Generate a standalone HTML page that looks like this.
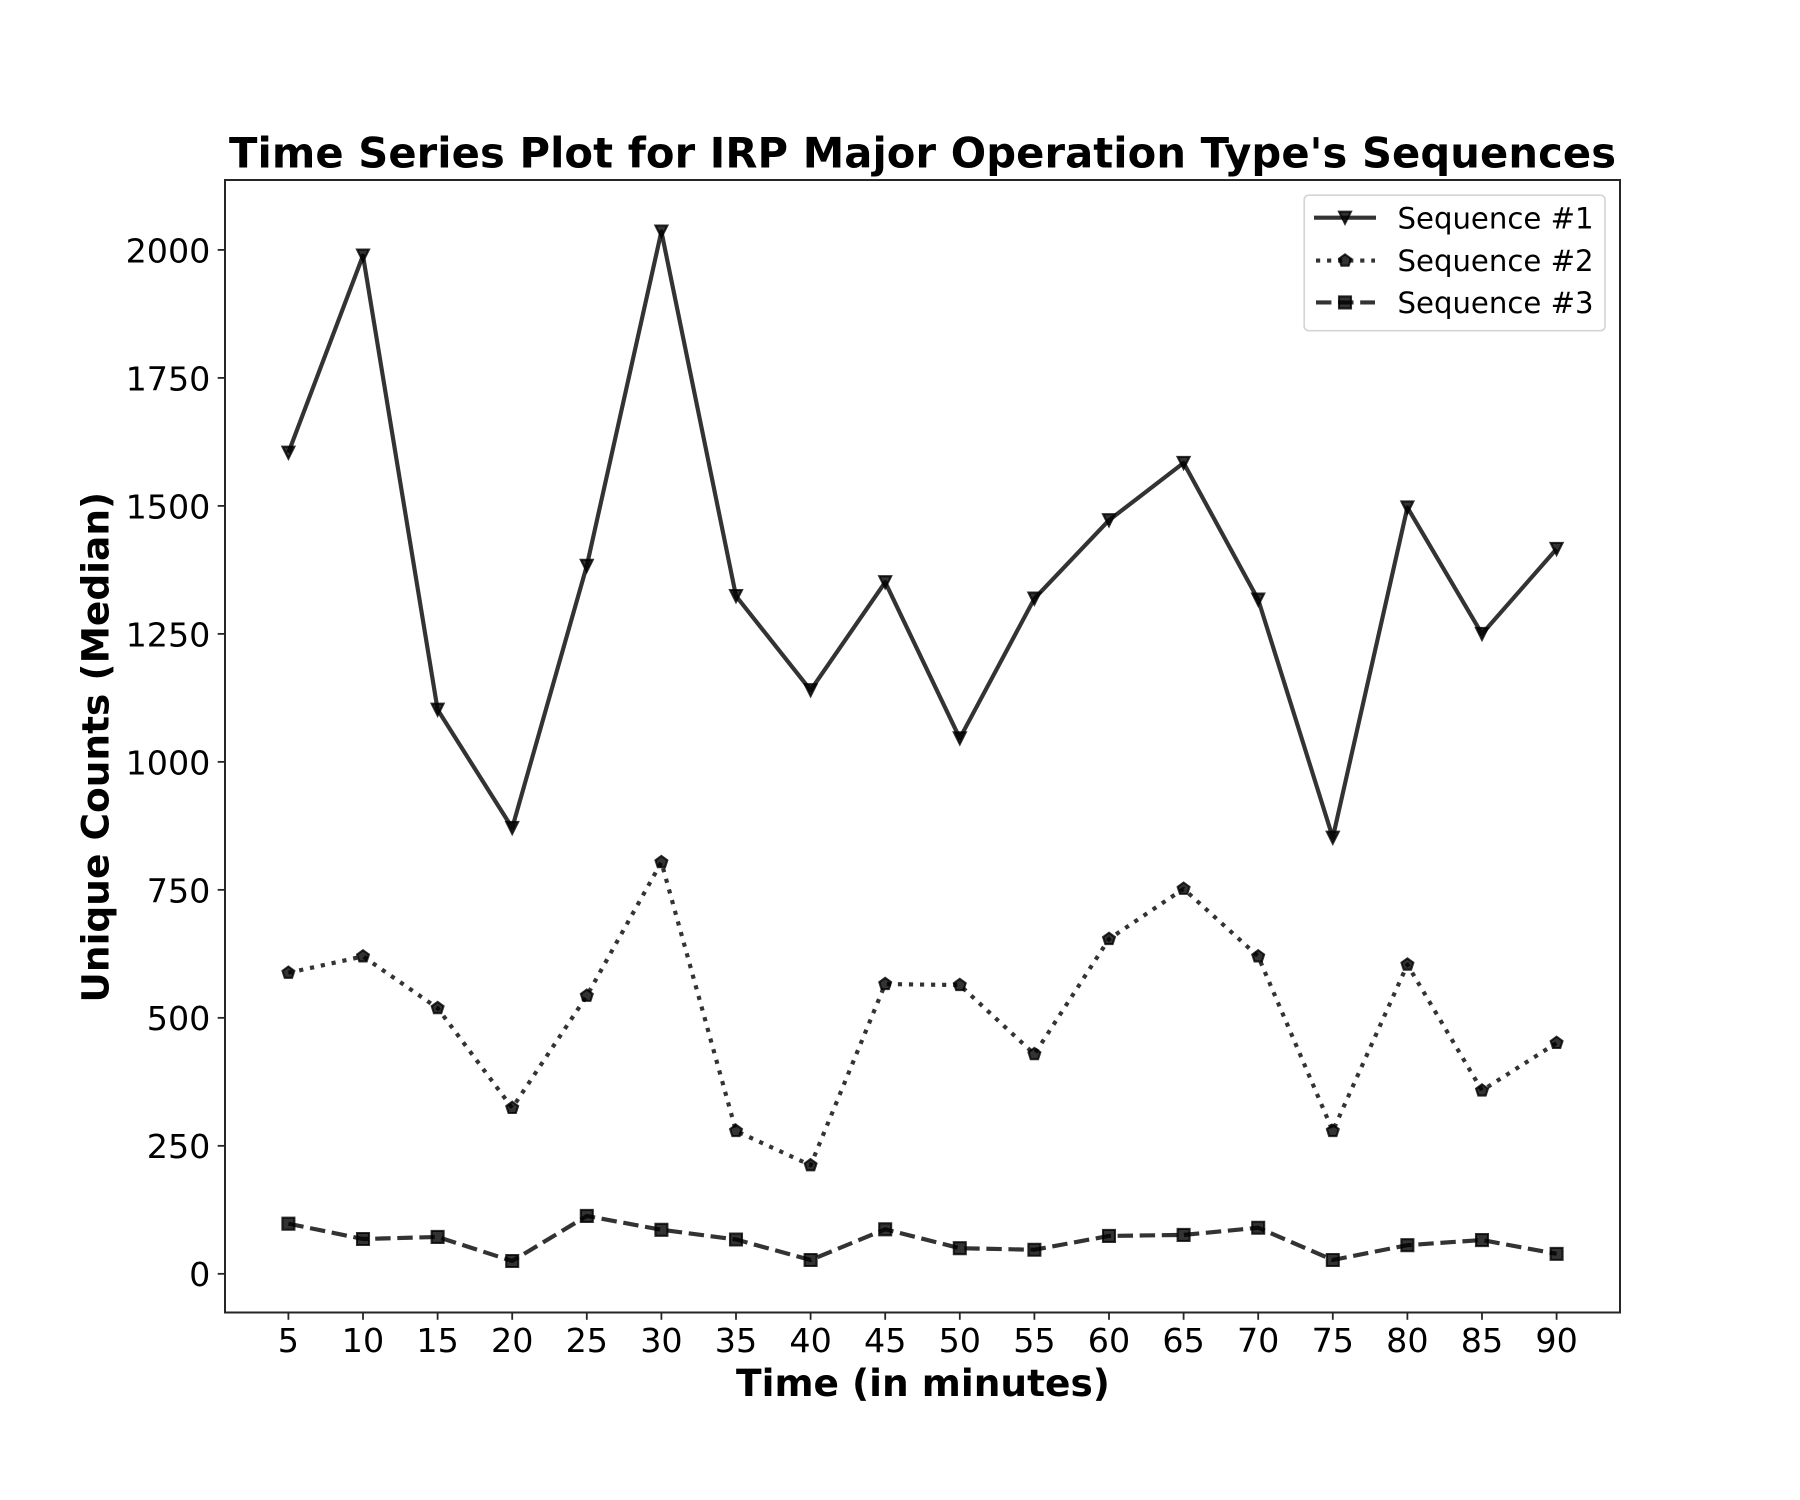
<!DOCTYPE html>
<html>
<head>
<meta charset="utf-8">
<title>Time Series Plot for IRP Major Operation Type's Sequences</title>
<style>
html,body{margin:0;padding:0;background:#fff;width:1800px;height:1500px;overflow:hidden}
svg{display:block}
text{font-family:"DejaVu Sans","Liberation Sans",sans-serif;fill:#000}
</style>
</head>
<body>
<svg id="chart" xmlns="http://www.w3.org/2000/svg" width="1800" height="1500" viewBox="0 0 1800 1500">
  <rect x="0" y="0" width="1800" height="1500" fill="#fff"/>
  <text x="922.5" y="167.6" text-anchor="middle" font-size="41.67" font-weight="700" textLength="1387" lengthAdjust="spacing">Time Series Plot for IRP Major Operation Type's Sequences</text>
  <text x="923" y="1396" text-anchor="middle" font-size="37.5" font-weight="700">Time (in minutes)</text>
  <text transform="translate(108.5,747.2) rotate(-90)" text-anchor="middle" font-size="37.5" font-weight="700">Unique Counts (Median)</text>
  <g id="x-axis"></g>
  <g id="y-axis"></g>
  <g id="series"></g>
  <rect x="225" y="180" width="1395" height="1132.5" fill="none" stroke="#262626" stroke-width="2"/>
  <g id="legend">
    <rect x="1304.2" y="195.2" width="300.8" height="135.5" rx="4.5" ry="4.5" fill="#fff" fill-opacity="0.8" stroke="#d5d5d5" stroke-width="1.67"/>
  </g>
</svg>
<script>
const minutes = [5,10,15,20,25,30,35,40,45,50,55,60,65,70,75,80,85,90];
const sequence1 = [1604,1989,1102,871,1383,2036,1324,1140,1351,1046,1319,1472,1584,1317,852,1497,1250,1416];
const sequence2 = [588,620,519,324,543,804,279,212,566,564,429,654,752,620,279,604,358,451];
const sequence3 = [98,68,72,25,113,86,67,27,87,50,47,74,76,90,27,56,66,39];
const yTicks = [0,250,500,750,1000,1250,1500,1750,2000];
const seriesLabels = ['Sequence #1','Sequence #2','Sequence #3'];

const NS = 'http://www.w3.org/2000/svg';
const axes = {left:225,right:1620,top:180,bottom:1312.5};

function extent(a){return [Math.min.apply(null,a),Math.max.apply(null,a)];}
const xExt = extent(minutes);
const xPad = (xExt[1]-xExt[0])*0.05;
const yExt = extent(sequence1.concat(sequence2,sequence3));
const yPad = (yExt[1]-yExt[0])*0.05;

function xScale(v){
  return axes.left+(v-(xExt[0]-xPad))/((xExt[1]+xPad)-(xExt[0]-xPad))*(axes.right-axes.left);
}
function yScale(v){
  return axes.bottom-(v-(yExt[0]-yPad))/((yExt[1]+yPad)-(yExt[0]-yPad))*(axes.bottom-axes.top);
}
function mk(tag,attrs,parent){
  const e=document.createElementNS(NS,tag);
  for(const k in attrs){e.setAttribute(k,attrs[k]);}
  parent.appendChild(e);
  return e;
}

const LW = 4.17, MS = 12, MEW = 2.08;

function markerPoints(kind,cx,cy){
  const r=MS/2;
  let pts;
  if(kind==='triangle'){pts=[[-r,-r],[r,-r],[0,r]];}
  else if(kind==='pentagon'){
    pts=[];
    const R=6.25;
    for(let i=0;i<5;i++){const a=-Math.PI/2+i*2*Math.PI/5;pts.push([R*Math.cos(a),R*Math.sin(a)]);}
  }
  else{pts=[[-r,-r],[r,-r],[r,r],[-r,r]];}
  return pts.map(function(p){return (cx+p[0]).toFixed(2)+','+(cy+p[1]).toFixed(2);}).join(' ');
}
function drawMarker(kind,cx,cy,parent,name){
  const fill=mk('polygon',{points:markerPoints(kind,cx,cy),fill:'#000','fill-opacity':0.8,stroke:'#000','stroke-opacity':0.8,'stroke-width':MEW,'stroke-linejoin':'miter'},parent);
  
  
}

const styles = [
  {key:'sequence-1',data:sequence1,marker:'triangle',dash:''},
  {key:'sequence-2',data:sequence2,marker:'pentagon',dash:'4.17 6.88'},
  {key:'sequence-3',data:sequence3,marker:'square',dash:'15.42 6.67'}
];

/* x axis */
const xAxis=document.getElementById('x-axis');
minutes.forEach(function(m){
  const x=xScale(m);
  const t=mk('line',{x1:x,x2:x,y1:axes.bottom,y2:axes.bottom+7.3,stroke:'#262626','stroke-width':1.8},xAxis);
  
  
  const l=mk('text',{x:x,y:1352,'text-anchor':'middle','font-size':33.33},xAxis);
  
  
  l.textContent=m;
});

/* y axis */
const yAxis=document.getElementById('y-axis');
yTicks.forEach(function(v){
  const y=yScale(v);
  const t=mk('line',{x1:axes.left-7.3,x2:axes.left,y1:y,y2:y,stroke:'#262626','stroke-width':1.8},yAxis);
  
  
  const l=mk('text',{x:210.4,y:y+12.4,'text-anchor':'end','font-size':33.33},yAxis);
  
  
  l.textContent=v;
});

/* series */
const seriesRoot=document.getElementById('series');
styles.forEach(function(s){
  const g=mk('g',{},seriesRoot);
  
  
  const pts=s.data.map(function(v,i){return xScale(minutes[i]).toFixed(2)+','+yScale(v).toFixed(2);}).join(' ');
  const line=mk('polyline',{points:pts,fill:'none',stroke:'#000','stroke-opacity':0.8,'stroke-width':LW,'stroke-linejoin':'round','stroke-linecap':'butt'},g);
  
  
  if(s.dash){line.setAttribute('stroke-dasharray',s.dash);}
  s.data.forEach(function(v,i){
    drawMarker(s.marker,xScale(minutes[i]),yScale(v),g,s.key+'-point');
  });
});

/* legend */
const legend=document.getElementById('legend');
const legendRows=[217.7,260.6,302.4];
styles.forEach(function(s,i){
  const y=legendRows[i];
  const x1=s.dash?1316:1314;
  const x2=s.dash?1375:1376;
  const line=mk('line',{x1:x1,x2:x2,y1:y,y2:y,stroke:'#000','stroke-opacity':0.8,'stroke-width':LW},legend);
  
  
  if(s.dash){line.setAttribute('stroke-dasharray',s.dash);}
  drawMarker(s.marker,1345,y,legend,s.key+'-legend-marker');
  const t=mk('text',{x:1397.5,y:y+10.6,'font-size':29.17},legend);
  
  
  t.textContent=seriesLabels[i];
});
</script>
</body>
</html>
